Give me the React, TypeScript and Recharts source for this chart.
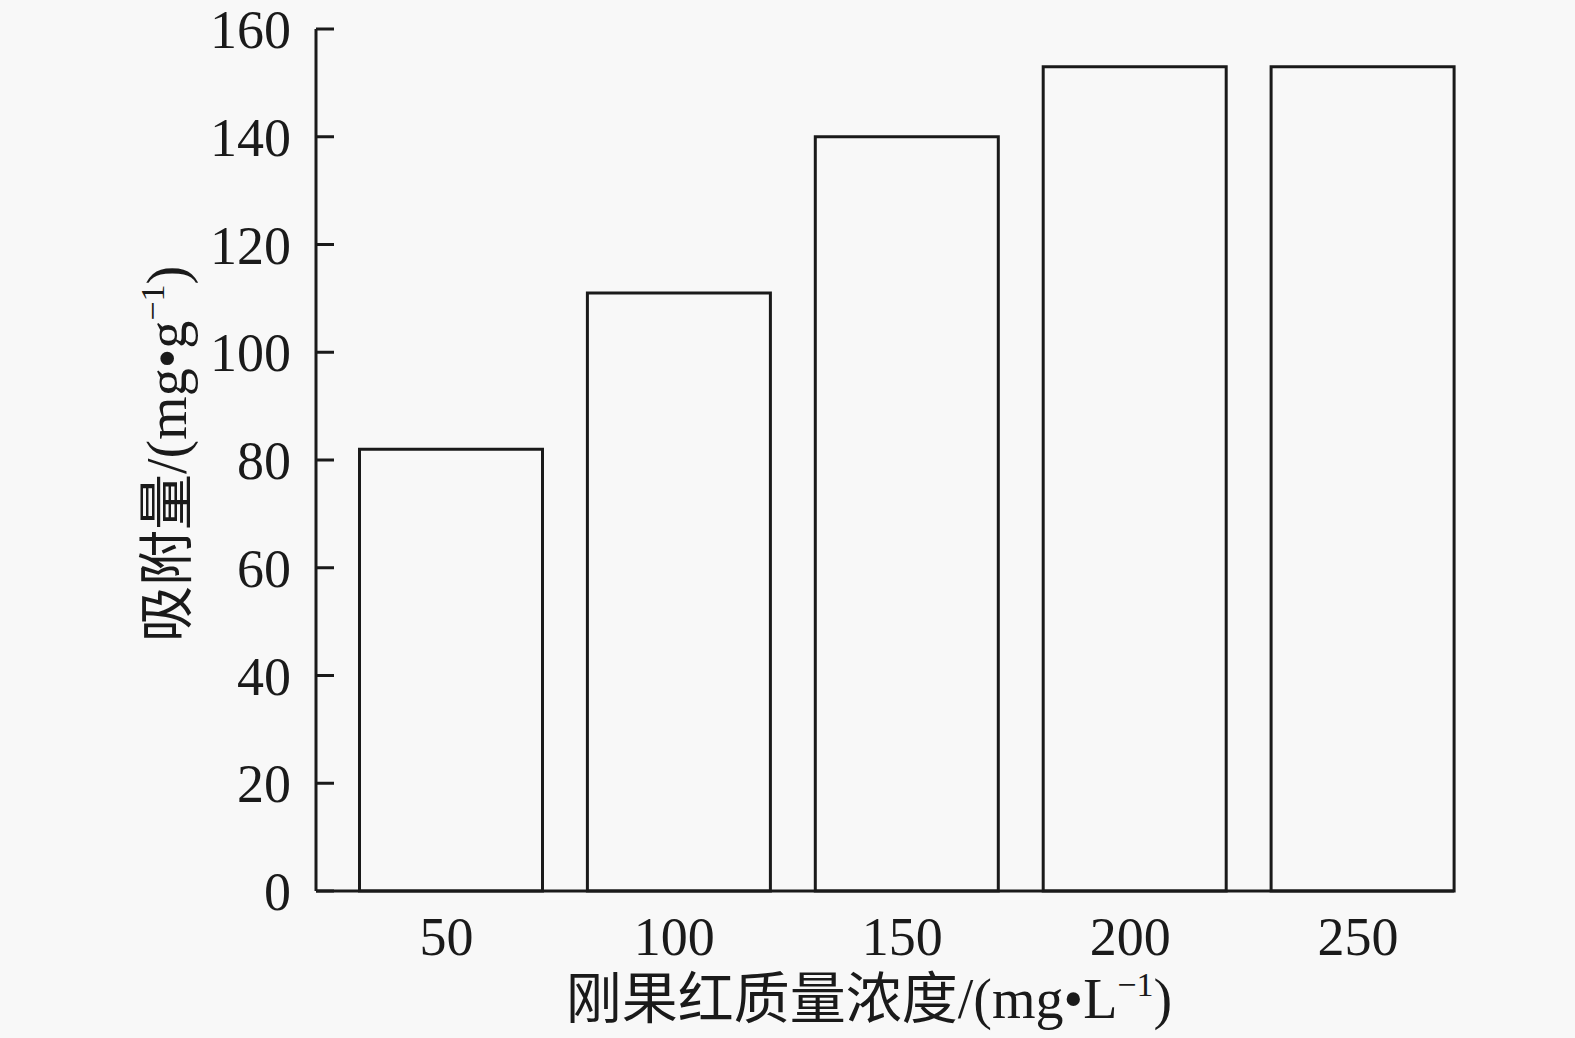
import { BarChart, Bar, XAxis, YAxis, Label } from "recharts";

const concentrations = ["50", "100", "150", "200", "250"];
const adsorption = [82, 111, 140, 153, 153];
const yTicks = [0, 20, 40, 60, 80, 100, 120, 140, 160];

const data = concentrations.map((c, i) => ({ name: c, value: adsorption[i] }));

const INK = "#1a1a1a";
const BG = "#f8f8f8";
const FONT = "'Liberation Serif', 'Noto Sans CJK SC', serif";

function XTitle(props: any) {
  const vb = props.viewBox || {};
  const cx = vb.x + vb.width / 2 - 16;
  return (
    <text x={cx} y={1018} textAnchor="middle" fontFamily={FONT} fontSize={56} fill={INK}>
      刚果红质量浓度/(mg•L
      <tspan dy={-22} fontSize={34}>−1</tspan>
      <tspan dy={22}>)</tspan>
    </text>
  );
}

function YTitle() {
  const x = 186;
  const y = 454;
  return (
    <text x={x} y={y} transform={`rotate(-90, ${x}, ${y})`} textAnchor="middle" fontFamily={FONT} fontSize={56} fill={INK}>
      吸附量/(mg•g
      <tspan dy={-22} fontSize={34}>−1</tspan>
      <tspan dy={22}>)</tspan>
    </text>
  );
}

export default function App() {
  return (
    <div style={{ position: "absolute", left: 0, top: 0, width: 1575, height: 1038, background: BG }}>
      <BarChart
        width={1575}
        height={1038}
        data={data}
        margin={{ top: 29, right: 121, bottom: 0, left: 0 }}
      >
        <XAxis
          dataKey="name"
          height={147}
          padding={{ left: 21.5, right: -23 }}
          axisLine={{ stroke: INK, strokeWidth: 3 }}
          tickLine={false}
          tickSize={0}
          tickMargin={26}
          tick={{ fill: INK, fontSize: 54, fontFamily: FONT, dx: -5 }}
        >
          <Label content={<XTitle />} />
        </XAxis>
        <YAxis
          width={316}
          domain={[0, 160]}
          ticks={yTicks}
          interval={0}
          axisLine={{ stroke: INK, strokeWidth: 3 }}
          tickLine={{ stroke: INK, strokeWidth: 3 }}
          tickSize={-18}
          tickMargin={43}
          tick={{ fill: INK, fontSize: 54, fontFamily: FONT }}
        >
          <Label content={<YTitle />} />
        </YAxis>
        <Bar
          dataKey="value"
          barSize={183}
          fill={BG}
          stroke={INK}
          strokeWidth={3}
          isAnimationActive={false}
        />
      </BarChart>
    </div>
  );
}
